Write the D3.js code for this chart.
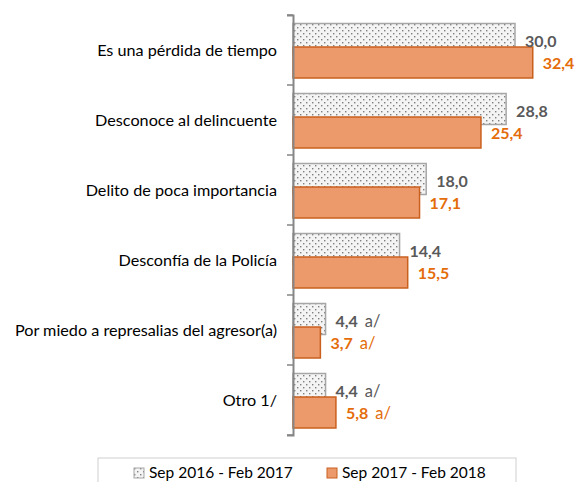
<!DOCTYPE html>
<html>
<head>
<meta charset="utf-8">
<script src="https://cdn.jsdelivr.net/npm/d3@7"></script>
<style>
  body { margin: 0; background: #fff; }
  svg { display: block; font-family: Lato, "Open Sans", sans-serif; }
</style>
</head>
<body>
<svg width="575" height="482"></svg>
<script>
// data
const categories = [
  "Es una pérdida de tiempo",
  "Desconoce al delincuente",
  "Delito de poca importancia",
  "Desconfía de la Policía",
  "Por miedo a represalias del agresor(a)",
  "Otro 1/"
];
const series2017 = [30.0, 28.8, 18.0, 14.4, 4.4, 4.4];
const series2018 = [32.4, 25.4, 17.1, 15.5, 3.7, 5.8];
const notes2017 = ["", "", "", "", "a/", "a/"];
const notes2018 = ["", "", "", "", "a/", "a/"];
const seriesNames = ["Sep 2016 - Feb 2017", "Sep 2017 - Feb 2018"];

const greyText = "#595959";
const orangeText = "#E46C0A";
const orangeFill = "#EC9A6C";
const orangeStroke = "#C9601E";

const svg = d3.select("svg");

// dotted pattern for the first series
const defs = svg.append("defs");
const pat = defs.append("pattern")
  .attr("id", "dots")
  .attr("patternUnits", "userSpaceOnUse")
  .attr("width", 6).attr("height", 6);
pat.append("rect").attr("width", 6).attr("height", 6).attr("fill", "#f4f4f4");
pat.append("rect").attr("x", 0).attr("y", 0).attr("width", 1.4).attr("height", 1.4).attr("fill", "#7f7f7f");
pat.append("rect").attr("x", 3).attr("y", 3).attr("width", 1.4).attr("height", 1.4).attr("fill", "#7f7f7f");

const x = d3.scaleLinear().domain([0, 35]).range([293, 552]);
const y = d3.scaleBand().domain(categories).range([15, 435]);

const barH = 31;
const g = svg.append("g");

// first series (behind)
g.selectAll(".b1").data(categories).join("rect")
  .attr("x", x(0))
  .attr("y", d => y(d) + 8.5)
  .attr("width", (d, i) => x(series2017[i]) - x(0))
  .attr("height", barH)
  .attr("fill", "url(#dots)")
  .attr("stroke", "#a6a6a6")
  .attr("stroke-width", 1.5);

// second series (on top)
g.selectAll(".b2").data(categories).join("rect")
  .attr("x", x(0))
  .attr("y", d => y(d) + 32)
  .attr("width", (d, i) => x(series2018[i]) - x(0))
  .attr("height", barH)
  .attr("fill", orangeFill)
  .attr("stroke", orangeStroke)
  .attr("stroke-width", 1.5);

const fmt = v => v.toFixed(1).replace(".", ",");

function labels(vals, notes, dy, color) {
  const t = g.selectAll(null).data(categories).join("text")
    .attr("x", (d, i) => x(vals[i]) + 10)
    .attr("y", d => y(d) + dy)
    .attr("dy", "0.35em")
    .attr("fill", color)
    .attr("font-size", 16);
  t.append("tspan").attr("font-weight", "bold").text((d, i) => fmt(vals[i]));
  t.append("tspan").attr("dx", 7).attr("font-size", 16.5).text((d, i) => notes[i]);
}
labels(series2017, notes2017, 26, greyText);
labels(series2018, notes2018, 48, orangeText);

// category axis
const axis = d3.axisLeft(y).tickSize(6).tickSizeOuter(6).tickFormat("");
const ax = svg.append("g").attr("transform", `translate(${x(0)},0)`).call(axis);
ax.select(".domain").attr("stroke", "#868686").attr("stroke-width", 2);
ax.selectAll(".tick").remove();
ax.selectAll(".bt").data(categories.concat(["end"])).join("line")
  .attr("x1", -6).attr("x2", 0)
  .attr("y1", (d, i) => i < categories.length ? y(d) : y.range()[1])
  .attr("y2", (d, i) => i < categories.length ? y(d) : y.range()[1])
  .attr("stroke", "#868686").attr("stroke-width", 1.5);

svg.append("g").selectAll("text").data(categories).join("text")
  .attr("x", 277)
  .attr("y", d => y(d) + y.bandwidth() / 2)
  .attr("dy", "0.35em")
  .attr("text-anchor", "end")
  .attr("font-size", 16.2)
  .attr("fill", "#000")
  .text(d => d);

// legend
const lg = svg.append("g");
lg.append("rect").attr("x", 98).attr("y", 458).attr("width", 418).attr("height", 40)
  .attr("fill", "#fff").attr("stroke", "#d0d0d0").attr("stroke-width", 1);
const legendX = [134, 327];
const it = lg.selectAll(".it").data(seriesNames).join("g")
  .attr("transform", (d, i) => `translate(${legendX[i]},468)`);
it.append("rect").attr("width", 10).attr("height", 10)
  .attr("fill", (d, i) => i === 0 ? "url(#dots)" : orangeFill)
  .attr("stroke", (d, i) => i === 0 ? "#a6a6a6" : orangeStroke)
  .attr("stroke-width", 1);
it.append("text").attr("x", 15).attr("y", 5).attr("dy", "0.35em")
  .attr("font-size", 15.5).attr("fill", "#000").text(d => d);
</script>
</body>
</html>
